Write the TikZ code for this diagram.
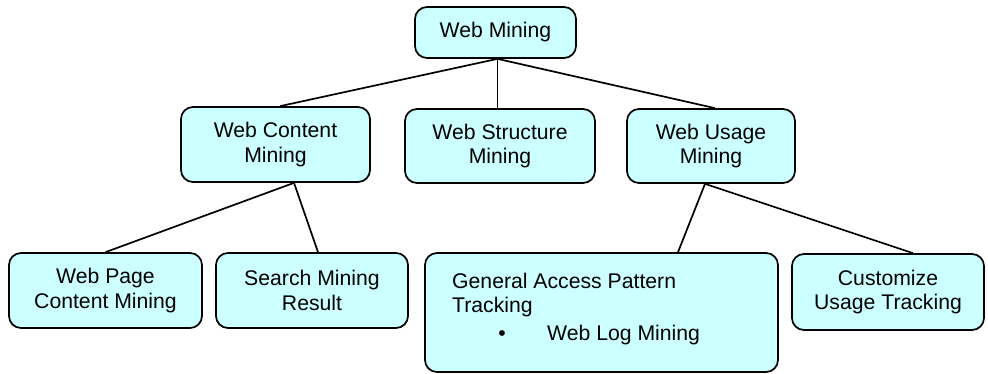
\documentclass[tikz,border=0pt]{standalone}
\usepackage{fontspec}
\setmainfont{Liberation Sans}
\definecolor{boxfill}{HTML}{CCFFFF}
\begin{document}
\begin{tikzpicture}[x=1pt,y=-1pt,
  box/.style={draw=black, line width=1.7pt, rounded corners=12pt, fill=boxfill,
    align=center, inner sep=0pt, font=\fontsize{21.2}{24.5}\selectfont},
  txt/.style={anchor=base west, inner sep=0pt, font=\fontsize{21.2}{24.5}\selectfont},
  link/.style={draw=black, line width=1.7pt}]
\useasboundingbox[fill=white] (0,0) rectangle (988,373);

\node[box, minimum width=161pt, minimum height=51pt] (wm) at (495.5,32.5) {Web Mining};
\node[box, minimum width=189pt, minimum height=75pt] (wcm) at (275.5,144.5) {Web Content\\Mining};
\node[box, minimum width=190pt, minimum height=74pt] (wsm) at (500,146) {Web Structure\\Mining};
\node[box, minimum width=168pt, minimum height=74pt] (wum) at (711,146) {Web Usage\\Mining};
\node[box, minimum width=193pt, minimum height=75pt] (wp) at (105.5,290.5) {Web Page\\Content Mining};
\node[box, minimum width=192pt, minimum height=75pt] (smr) at (312,290.5) {Search Mining\\Result};
\node[box, minimum width=353pt, minimum height=119pt] (gap) at (601.5,312.5) {};
\node[box, minimum width=192pt, minimum height=76pt] (cut) at (888,292) {Customize\\Usage Tracking};

\node[txt] (g1) at (452,288.3) {General Access Pattern};
\node[txt] (g2) at (452,312.7) {Tracking};
\node[txt, anchor=base] (gb) at (502,340) {•};
\node[txt] (g3) at (547,340) {Web Log Mining};

\draw[link] ([xshift=2pt]wm.south) -- ([xshift=4.5pt]wcm.north);
\draw[link] ([xshift=2pt]wm.south) -- ([xshift=2pt]wm.south |- wsm.north);
\draw[link] ([xshift=2pt]wm.south) -- ([xshift=4pt]wum.north);

\draw[link] ([xshift=18.5pt]wcm.south) -- (wp.north);
\draw[link] ([xshift=18.5pt]wcm.south) -- ([xshift=6pt]smr.north);

\draw[link] ([xshift=-6pt]wum.south) -- ([xshift=76.5pt]gap.north);
\draw[link] ([xshift=-6pt]wum.south) -- ([xshift=25pt]cut.north);
\end{tikzpicture}
\end{document}
